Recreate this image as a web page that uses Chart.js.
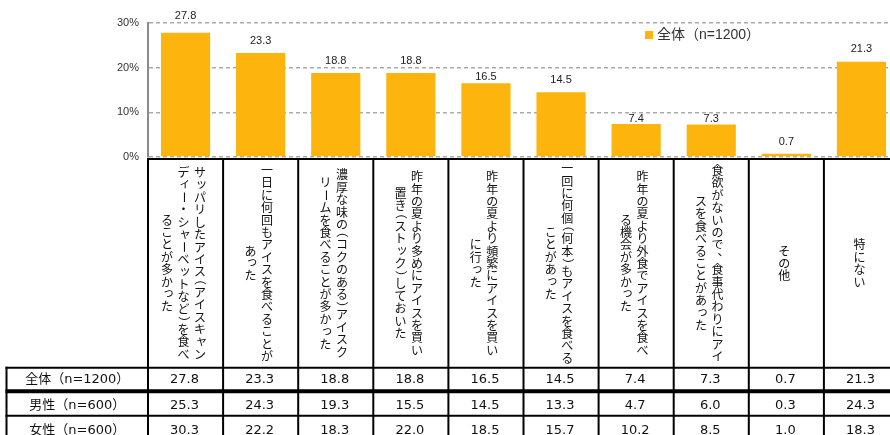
<!DOCTYPE html>
<html lang="ja">
<head>
<meta charset="utf-8">
<title>アイスの食べ方</title>
<script src="https://cdn.jsdelivr.net/npm/chart.js@4.4.1/dist/chart.umd.min.js"></script>
<style>
  html, body { margin: 0; padding: 0; background: #fff; overflow: hidden; }
  #wrap { width: 900px; height: 435px; }
</style>
</head>
<body>
<div id="wrap"><canvas id="iceChart" width="900" height="435"></canvas></div>
<script>
// category labels, already wrapped into vertical lines (first line is drawn rightmost)
const categories = [
  ['サッパリしたアイス（アイスキャン', 'ディー・シャーベットなど）を食べ', 'ることが多かった'],
  ['一日に何回もアイスを食べることが', 'あった'],
  ['濃厚な味の（コクのある）アイスク', 'リームを食べることが多かった'],
  ['昨年の夏より多めにアイスを買い', '置き（ストック）しておいた'],
  ['昨年の夏より頻繁にアイスを買い', 'に行った'],
  ['一回に何個（何本）もアイスを食べる', 'ことがあった'],
  ['昨年の夏より外食でアイスを食べ', 'る機会が多かった'],
  ['食欲がないので、食事代わりにアイ', 'スを食べることがあった'],
  ['その他'],
  ['特にない']
];

const rowLabels = ['全体（n=1200）', '男性（n=600）', '女性（n=600）'];
const totalValues = [27.8, 23.3, 18.8, 18.8, 16.5, 14.5, 7.4, 7.3, 0.7, 21.3];
const maleValues = [25.3, 24.3, 19.3, 15.5, 14.5, 13.3, 4.7, 6.0, 0.3, 24.3];
const femaleValues = [30.3, 22.2, 18.3, 22.0, 18.5, 15.7, 10.2, 8.5, 1.0, 18.3];
const tableRows = [totalValues, maleValues, femaleValues];
const yTicks = [0, 10, 20, 30];

// how far each value label sits above its bar (px)
const labelLift = [17, 12, 12, 12, 6, 12, 5, 5, 12, 13];

const BAR_COLOR = '#FDB50E';
const JP_FONT = '"Noto Sans CJK JP"';

const ROTATED = 'ー（）－～';
const SMALL_KANA = 'ァィゥェォッャュョぁぃぅぇぉっゃゅょ';

function advanceOf(ch) {
  return (ch === '（' || ch === '）') ? 8 : 12.4;
}

// canvas has no vertical writing mode, so stack the glyphs by hand
function drawVertical(ctx, text, cx, cy) {
  const chars = Array.from(text);
  const total = chars.reduce((s, c) => s + advanceOf(c), 0);
  let y = cy - total / 2;
  chars.forEach(ch => {
    const adv = advanceOf(ch);
    const mid = y + adv / 2;
    ctx.save();
    if (ROTATED.includes(ch)) {
      ctx.translate(cx, mid);
      ctx.rotate(Math.PI / 2);
      let dx = 0;
      if (ch === '（') dx = -3;
      if (ch === '）') dx = 3;
      ctx.fillText(ch, dx, 0);
    } else if (SMALL_KANA.includes(ch)) {
      ctx.fillText(ch, cx + 1.5, mid - 1.5);
    } else if (ch === '、' || ch === '。') {
      ctx.fillText(ch, cx + 6, mid - 6);
    } else {
      ctx.fillText(ch, cx, mid);
    }
    ctx.restore();
    y += adv;
  });
}

const valueLabels = {
  id: 'valueLabels',
  afterDatasetsDraw(chart) {
    const {ctx} = chart;
    const meta = chart.getDatasetMeta(0);
    ctx.save();
    ctx.font = '11px "Liberation Sans", Arial, sans-serif';
    ctx.fillStyle = '#222';
    ctx.textAlign = 'center';
    ctx.textBaseline = 'middle';
    meta.data.forEach((bar, i) => {
      ctx.fillText(totalValues[i].toFixed(1), bar.x, bar.y - labelLift[i]);
    });
    ctx.restore();
  }
};

const innerLegend = {
  id: 'innerLegend',
  afterDraw(chart) {
    const {ctx} = chart;
    const ds = chart.data.datasets[0];
    ctx.save();
    ctx.fillStyle = ds.backgroundColor;
    ctx.fillRect(645, 31, 8, 8);
    ctx.fillStyle = '#333';
    ctx.font = '14px "Liberation Sans", ' + JP_FONT;
    ctx.textAlign = 'left';
    ctx.textBaseline = 'middle';
    ctx.fillText(ds.label, 657, 35.5);
    ctx.restore();
  }
};

// category header cells and the value table under the plot
const surveyTable = {
  id: 'surveyTable',
  afterDraw(chart) {
    const {ctx, chartArea, scales: {x}} = chart;
    const n = categories.length;
    const colW = (chartArea.right - chartArea.left) / n;
    const headTop = chartArea.bottom + 2;
    const headBottom = 367.7;
    const rowLines = [367.7, 391.3, 415.7, 440];
    const tableLeft = 6.5;
    const right = chart.width;
    const bottom = chart.height;

    ctx.save();
    ctx.strokeStyle = '#000';
    ctx.lineCap = 'butt';

    const hLine = (y, x0, w) => {
      ctx.lineWidth = w;
      ctx.beginPath(); ctx.moveTo(x0, y); ctx.lineTo(right, y); ctx.stroke();
    };
    const vLine = (xp, y0) => {
      ctx.lineWidth = 2;
      ctx.beginPath(); ctx.moveTo(xp, y0); ctx.lineTo(xp, bottom); ctx.stroke();
    };

    hLine(headTop, chartArea.left - 1, 2);
    hLine(rowLines[0], tableLeft - 1, 2);
    hLine(rowLines[1], tableLeft - 1, 4);
    hLine(rowLines[2], tableLeft - 1, 2);
    hLine(rowLines[3], tableLeft - 1, 2);
    vLine(tableLeft, rowLines[0] - 1);
    for (let i = 0; i <= n; i++) {
      vLine(chartArea.left + i * colW, headTop - 1);
    }

    // vertical category text
    ctx.fillStyle = '#111';
    ctx.font = '12px ' + JP_FONT;
    ctx.textAlign = 'center';
    ctx.textBaseline = 'middle';
    const headMid = (headTop + headBottom) / 2;
    categories.forEach((lines, i) => {
      const cx = x.getPixelForValue(i) - 2;
      const gap = 16.5;
      lines.forEach((line, j) => {
        const lx = cx + ((lines.length - 1) / 2 - j) * gap;
        drawVertical(ctx, line, lx, headMid);
      });
    });

    // value rows
    const textY = [379.5, 405.5, 430.5];
    tableRows.forEach((vals, r) => {
      ctx.font = '13px "DejaVu Sans", ' + JP_FONT;
      ctx.fillStyle = '#111';
      ctx.fillText(rowLabels[r], (tableLeft + chartArea.left) / 2, textY[r]);
      ctx.font = '13px "DejaVu Sans", sans-serif';
      vals.forEach((v, i) => {
        ctx.fillText(v.toFixed(1), x.getPixelForValue(i) - 1, textY[r]);
      });
    });
    ctx.restore();
  }
};

new Chart(document.getElementById('iceChart'), {
  type: 'bar',
  data: {
    labels: categories.map(lines => lines.join('')),
    datasets: [{
      label: rowLabels[0],
      data: totalValues,
      backgroundColor: BAR_COLOR,
      categoryPercentage: 1,
      barPercentage: 0.655
    }]
  },
  options: {
    responsive: false,
    devicePixelRatio: 1,
    animation: false,
    layout: {
      padding: {left: 0, right: 1, top: 23, bottom: 278}
    },
    scales: {
      x: {
        display: false
      },
      y: {
        min: yTicks[0],
        max: yTicks[yTicks.length - 1],
        afterFit(scale) { scale.width = 148; },
        afterBuildTicks(scale) { scale.ticks = yTicks.map(v => ({value: v})); },
        ticks: {
          padding: 9,
          color: '#333',
          font: {family: '"Liberation Sans", Arial, sans-serif', size: 11},
          callback: v => v + '%'
        },
        grid: {
          color: '#ababab',
          lineWidth: 1.5,
          drawTicks: false
        },
        border: {
          display: true,
          color: '#8a8a8a',
          width: 2,
          dash: [4, 3]
        }
      }
    },
    plugins: {
      legend: {display: false},
      tooltip: {enabled: false}
    }
  },
  plugins: [valueLabels, innerLegend, surveyTable]
});
</script>
</body>
</html>
